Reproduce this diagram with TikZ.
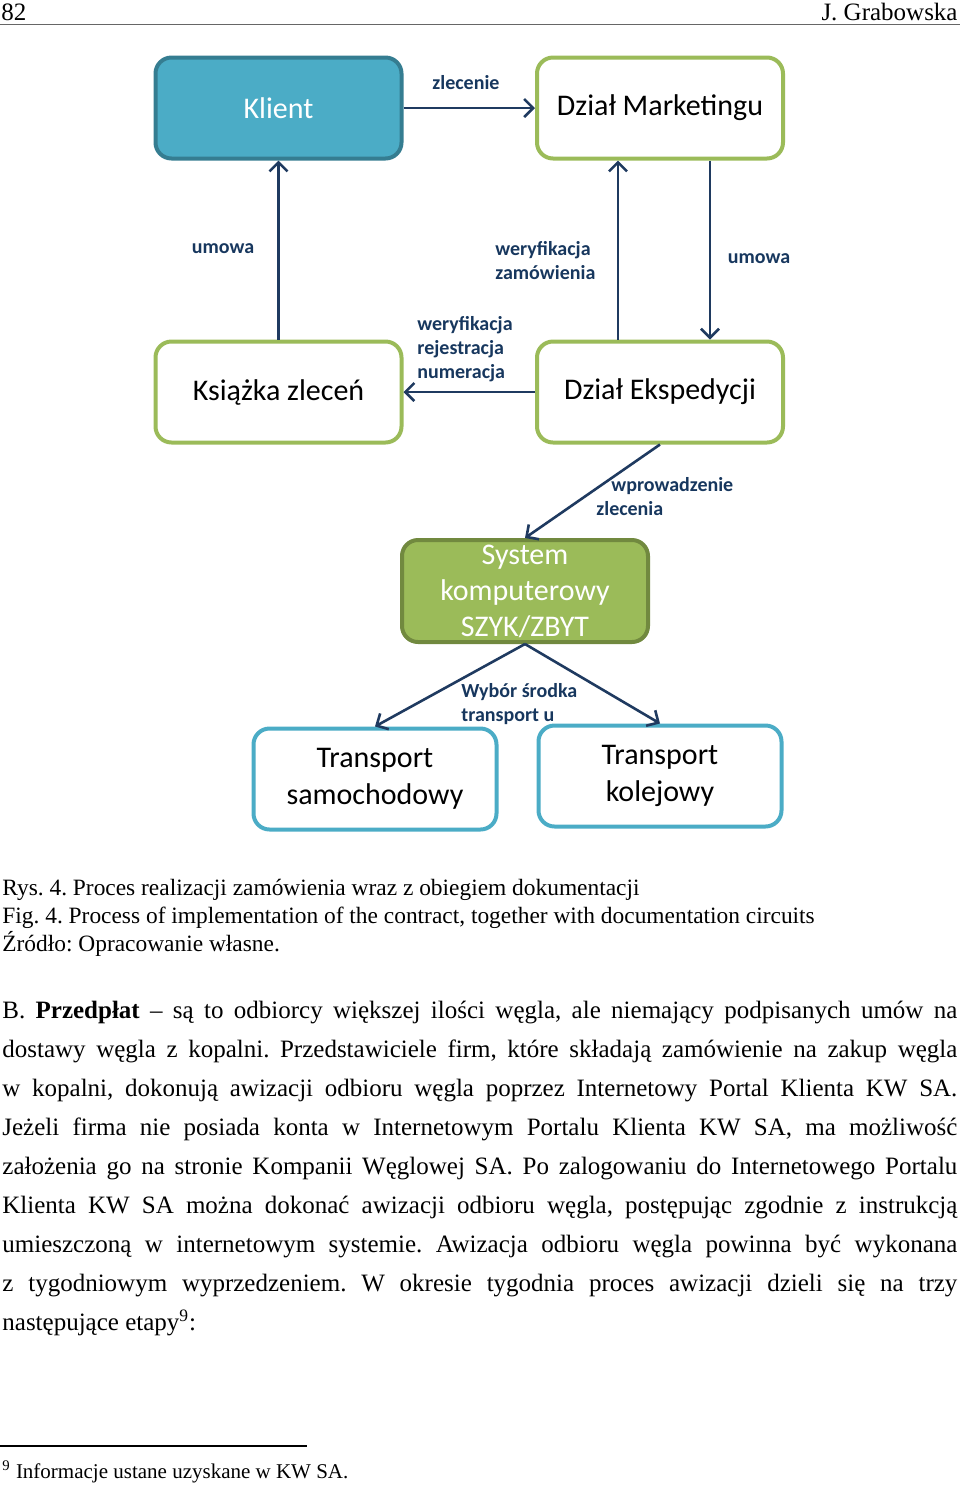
\documentclass[tikz,border=0pt]{standalone}
\usepackage{fontspec}
\setmainfont{Liberation Serif}
\newfontfamily\diagfont{Carlito}
\usetikzlibrary{arrows.meta}
\frenchspacing

\definecolor{morski}{HTML}{4BACC6}
\definecolor{morskiciemny}{HTML}{357D91}
\definecolor{oliwka}{HTML}{9BBB59}
\definecolor{oliwkaciemna}{HTML}{71893F}
\definecolor{granat}{HTML}{1F3A60}
\definecolor{granattekst}{HTML}{17375E}

\newcommand\wiersz[1]{\hbox to 477.5pt{#1}}% wiersz wyjustowany

\begin{document}
\begin{tikzpicture}[x = 0.5pt, y = -0.5pt]
     \useasboundingbox (0,0) rectangle (960,1485);
     \tikzset{pole/.style        = {draw            = oliwka,
                                    line width      = 2pt,
                                    rounded corners = 8pt,
                                    fill            = white,
                                    minimum width   = 123pt,
                                    minimum height  = 50.5pt,
                                    inner sep       = 0pt,
                                    align           = center,
                                    font            = \diagfont\fontsize{15}{18}\selectfont},
              polemorskie/.style = {pole,
                                    draw            = morski,
                                    minimum width   = 121.5pt,
                                    font            = \diagfont\fontsize{15}{18.5}\selectfont},
              opis/.style        = {font      = \diagfont\bfseries\fontsize{10}{12}\selectfont,
                                    text      = granattekst,
                                    align     = left,
                                    inner sep = 0pt},
              strzalka/.style    = {draw       = granat,
                                    line width = 1.3pt,
                                    -{Straight Barb[length=4.5pt,width=9pt]}},
              tekst/.style       = {anchor    = base west,
                                    align     = left,
                                    inner sep = 0pt}}
     % naglowek strony
     \node[tekst, font = \fontsize{12.5}{14}\selectfont] (strona) at (1,20) {82};
     \node[tekst, anchor = base east, font = \fontsize{12.5}{14}\selectfont] (autor) at (958,20) {J. Grabowska};
     \draw[black!60, line width = 0.5pt] (0,24) -- (960,24);
     % pola schematu
     \node[pole, fill = morski, draw = morskiciemny, text = white] (klient) at (278.5,108) {Klient};
     \node[pole] (marketing)  at (660,108)   {Dział Marketingu};
     \node[pole] (ksiazka)    at (278.5,392) {Książka zleceń};
     \node[pole] (ekspedycja) at (660,392)   {Dział Ekspedycji};
     \node[pole, fill = oliwka, draw = oliwkaciemna, text = white,
           minimum height = 51pt] (system) at (525,591) {System\\komputerowy\\SZYK/ZBYT};
     \node[polemorskie] (samochod) at (375,779) {Transport\\samochodowy};
     \node[polemorskie] (kolej)    at (660,776) {Transport\\kolejowy};
     % strzalki
     \draw[strzalka] (klient.east) -- (marketing.west);
     \draw[strzalka] (ksiazka.north) -- (klient.south);
     \draw[strzalka] ([xshift=-21pt]ekspedycja.north) -- ([xshift=-21pt]marketing.south);
     \draw[strzalka] ([xshift=25pt]marketing.south) -- ([xshift=25pt]ekspedycja.north);
     \draw[strzalka] (ekspedycja.west) -- (ksiazka.east);
     \draw[strzalka] (ekspedycja.south) -- (system.north);
     \draw[strzalka] (system.south) -- (samochod.north);
     \draw[strzalka] (system.south) -- (kolej.north);
     % opisy strzalek
     \node[opis] (lzlecenie) at (466,83)  {zlecenie};
     \node[opis] (lumowa)    at (223,249) {umowa};
     \node[opis, anchor = west] (lweryfikacja) at (495,261) {weryfikacja\\zamówienia};
     \node[opis] (lumowadwa) at (759,259) {umowa};
     \node[opis, anchor = west] (lrejestracja) at (417,349) {weryfikacja\\rejestracja\\numeracja};
     \node[opis, anchor = west] (lwprowadzenie) at (596,497) {\hspace*{7.5pt}wprowadzenie\\zlecenia};
     \node[opis, anchor = west] (lwybor) at (461,704) {Wybór środka\\transport u};
     % podpis rysunku (base = ostatni wiersz)
     \node[tekst, font = \fontsize{11.7}{14}\selectfont] (podpis) at (2,951)
          {Rys. 4. Proces realizacji zamówienia wraz z obiegiem dokumentacji\\
           Fig. 4. Process of implementation of the contract, together with documentation circuits\\
           Źródło: Opracowanie własne.};
     % tekst glowny
     \node[tekst, font = \fontsize{12.5}{19.5}\selectfont] (akapit) at (2,1330)
          {\wiersz{B. \textbf{Przedpłat} – są to odbiorcy większej ilości węgla, ale niemający podpisanych umów na}\\
           \wiersz{dostawy węgla z kopalni. Przedstawiciele firm, które składają zamówienie na zakup węgla}\\
           \wiersz{w kopalni, dokonują awizacji odbioru węgla poprzez Internetowy Portal Klienta KW SA.}\\
           \wiersz{Jeżeli firma nie posiada konta w Internetowym Portalu Klienta KW SA, ma możliwość}\\
           \wiersz{założenia go na stronie Kompanii Węglowej SA. Po zalogowaniu do Internetowego Portalu}\\
           \wiersz{Klienta KW SA można dokonać awizacji odbioru węgla, postępując zgodnie z instrukcją}\\
           \wiersz{umieszczoną w internetowym systemie. Awizacja odbioru węgla powinna być wykonana}\\
           \wiersz{z tygodniowym wyprzedzeniem. W okresie tygodnia proces awizacji dzieli się na trzy}\\
           następujące etapy\textsuperscript{9}:};
     % przypis
     \draw[line width = 0.6pt] (0,1446) -- (307,1446);
     \node[tekst, font = \fontsize{10.5}{12}\selectfont] (przypis) at (2,1478)
          {\textsuperscript{9} Informacje ustane uzyskane w KW SA.};
\end{tikzpicture}
\end{document}
